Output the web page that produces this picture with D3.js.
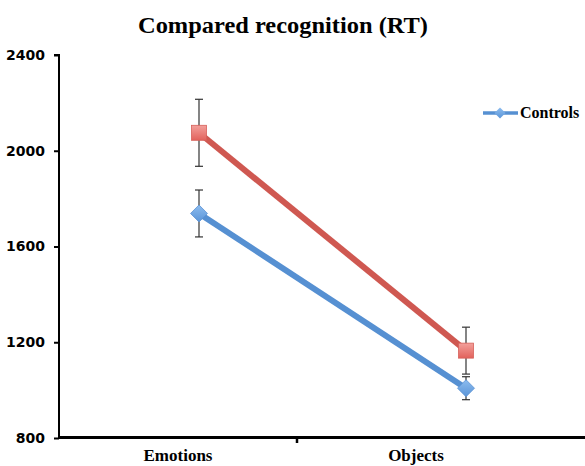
<!DOCTYPE html>
<html><head><meta charset="utf-8">
<script src="https://cdn.jsdelivr.net/npm/d3@7"></script>
<style>body{margin:0;background:#fff}svg{display:block}</style>
</head><body>
<script>
const categories = ["Emotions", "Objects"];
const seriesNames = ["Patients", "Controls"];
const patientsValues = [2075, 1165];
const patientsErrors = [140, 98];
const controlsValues = [1738, 1008];
const controlsErrors = [98, 48];
const yTicks = [800, 1200, 1600, 2000, 2400];

const W = 585, H = 466;
const svg = d3.select("body").append("svg").attr("width", W).attr("height", H);

const defs = svg.append("defs");
const gR = defs.append("linearGradient").attr("id","gR").attr("x1",0).attr("y1",0).attr("x2",0).attr("y2",1);
gR.append("stop").attr("offset","0%").attr("stop-color","#f3a09b");
gR.append("stop").attr("offset","100%").attr("stop-color","#e2625c");
const gB = defs.append("linearGradient").attr("id","gB").attr("x1",0).attr("y1",0).attr("x2",0).attr("y2",1);
gB.append("stop").attr("offset","0%").attr("stop-color","#8cbcef");
gB.append("stop").attr("offset","100%").attr("stop-color","#5b95d8");

const y = d3.scaleLinear().domain([800, 2400]).range([438, 55]);
const xBand = d3.scaleBand().domain(categories).range([59, 535]);
const xPt = d3.scalePoint().domain(categories).range([199, 466]);

// title
svg.append("text").attr("x", 283).attr("y", 33).attr("text-anchor","middle")
  .attr("font-family","'Liberation Serif', serif").attr("font-weight","bold")
  .attr("font-size", 24).attr("textLength", 290).attr("lengthAdjust","spacingAndGlyphs")
  .text("Compared recognition (RT)");

// y axis
const ya = svg.append("g").attr("transform","translate(59,0)")
  .call(d3.axisLeft(y).tickValues(yTicks).tickSize(5).tickPadding(9).tickFormat(d3.format("d")));
ya.select(".domain").attr("stroke","#000").attr("stroke-width",2).attr("d","M-5,55H0V439");
ya.selectAll(".tick line").attr("stroke","#000").attr("stroke-width",2);
ya.selectAll(".tick text").attr("font-family","'DejaVu Sans', sans-serif").attr("font-weight","bold")
  .attr("font-size",14).attr("fill","#000");

// x axis
svg.append("line").attr("x1",58).attr("x2",585).attr("y1",437.5).attr("y2",437.5)
  .attr("stroke","#000").attr("stroke-width",3);
svg.append("g").selectAll("line").data(categories.slice(1)).join("line")
  .attr("x1", d => xBand(d)).attr("x2", d => xBand(d)).attr("y1",437).attr("y2",443)
  .attr("stroke","#000").attr("stroke-width",2.5);
svg.append("g").selectAll("text").data(categories).join("text")
  .attr("x", d => xBand(d) + xBand.bandwidth()/2 - 0).attr("y", 461)
  .attr("text-anchor","middle").attr("font-family","'Liberation Serif', serif")
  .attr("font-weight","bold").attr("font-size",17).text(d => d);

const series = [
  {name: seriesNames[0], vals: patientsValues, errs: patientsErrors, line: "#cf5851", fill: "url(#gR)", shape: "square"},
  {name: seriesNames[1], vals: controlsValues, errs: controlsErrors, line: "#5690d2", fill: "url(#gB)", shape: "diamond"}
];

const line = d3.line().x((d,i) => xPt(categories[i])).y(d => y(d));

series.forEach(s => {
  const g = svg.append("g");
  s.vals.forEach((v,i) => {
    const cx = xPt(categories[i]);
    const e = s.errs[i];
    g.append("line").attr("x1",cx).attr("x2",cx).attr("y1",y(v+e)).attr("y2",y(v-e))
      .attr("stroke","#333").attr("stroke-width",1.2);
    [v+e, v-e].forEach(t => g.append("line").attr("x1",cx-4).attr("x2",cx+4).attr("y1",y(t)).attr("y2",y(t))
      .attr("stroke","#333").attr("stroke-width",1.2));
  });
});
series.forEach(s => {
  const g = svg.append("g");
  g.append("path").attr("d", line(s.vals)).attr("fill","none").attr("stroke", s.line)
    .attr("stroke-width",6).attr("stroke-linecap","butt");
  s.vals.forEach((v,i) => {
    const cx = xPt(categories[i]), cy = y(v);
    if (s.shape === "square") {
      g.append("rect").attr("x",cx-7.5).attr("y",cy-7.5).attr("width",15).attr("height",15)
        .attr("fill", s.fill).attr("stroke","#d6605a").attr("stroke-width",0.8);
    } else {
      g.append("path").attr("d",`M${cx},${cy-8.5}L${cx+8.5},${cy}L${cx},${cy+8.5}L${cx-8.5},${cy}Z`)
        .attr("fill", s.fill).attr("stroke","#5a92d4").attr("stroke-width",0.8);
    }
  });
});

// legend (Controls only visible)
const lg = svg.append("g");
lg.append("line").attr("x1",483).attr("x2",518).attr("y1",113).attr("y2",113)
  .attr("stroke","#5690d2").attr("stroke-width",3.5);
lg.append("path").attr("d","M500,107.5L505.5,113L500,118.5L494.5,113Z").attr("fill","url(#gB)");
lg.append("text").attr("x",520).attr("y",118).attr("font-family","'Liberation Serif', serif")
  .attr("font-weight","bold").attr("font-size",16).text(seriesNames[1]);
</script>
</body></html>
